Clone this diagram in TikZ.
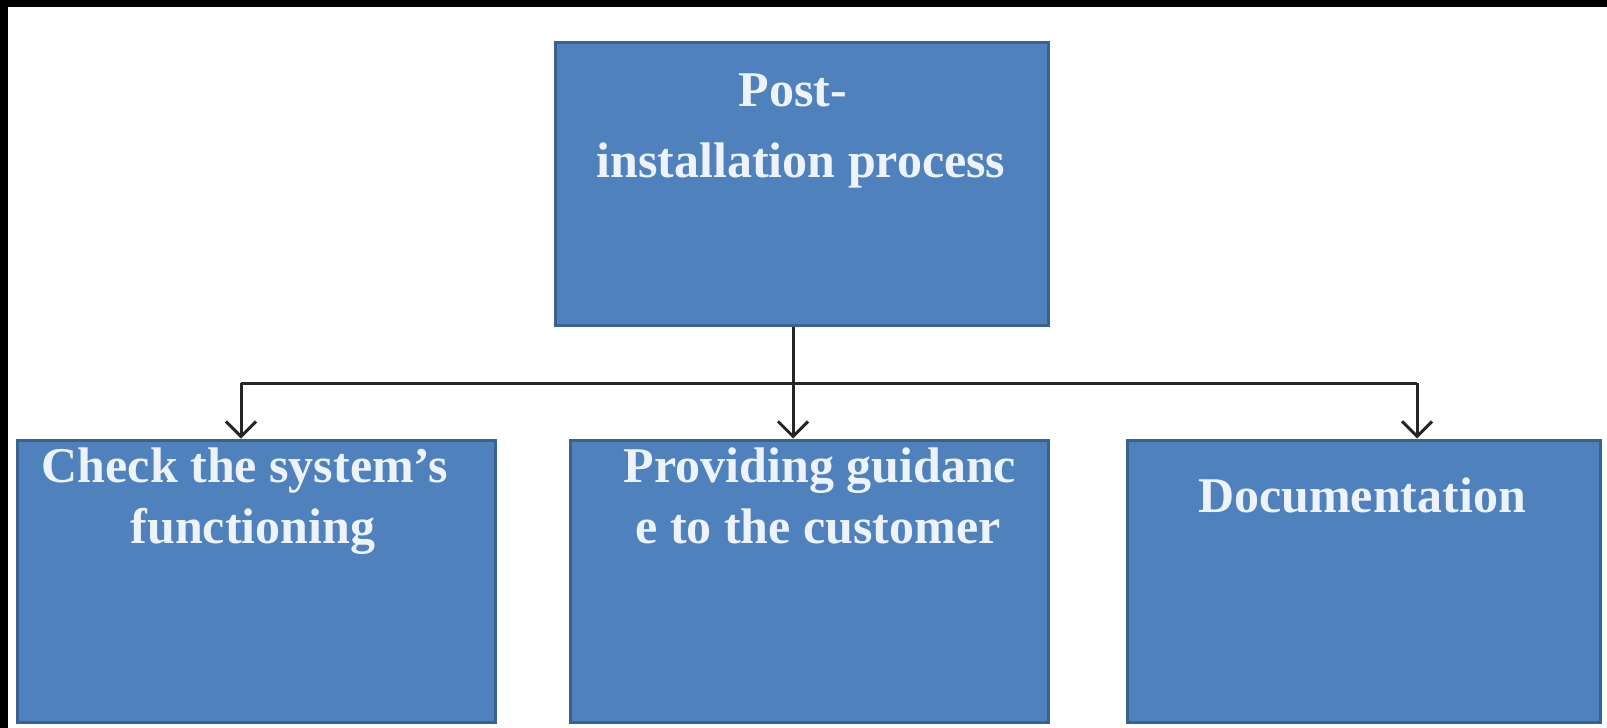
\documentclass[tikz,border=0pt]{standalone}
\usepackage{fontspec}
\setmainfont{Liberation Serif}
\usetikzlibrary{arrows.meta}
\definecolor{boxfill}{HTML}{4F81BD}
\definecolor{boxline}{HTML}{3A6190}
\definecolor{boxtext}{HTML}{EEF3FA}
\tikzset{
  box/.style={draw=boxline, line width=1.5pt, fill=boxfill, inner sep=0pt},
  lbl/.style={text=boxtext, font=\fontsize{25}{30}\selectfont\bfseries, anchor=base, inner sep=0pt},
  conn/.style={draw=black!85, line width=1.5pt},
  arr/.style={conn, -{Straight Barb[length=7.5pt, width=15pt, line width=1.5pt]}},
}
\begin{document}
\begin{tikzpicture}[x=0.5pt, y=-0.5pt]
\useasboundingbox (0,0) rectangle (1607,728);
\fill[white] (0,0) rectangle (1607,728);
\fill[black] (0,0) rectangle (1607,7);
\fill[black] (0,0) rectangle (8,728);

\node[box, minimum width=246.5pt, minimum height=141.5pt] (top) at (801.5,183.5) {};
\node[box, minimum width=239pt, minimum height=141pt] (b1) at (256,581) {};
\node[box, minimum width=239pt, minimum height=141pt] (b2) at (809,581) {};
\node[box, minimum width=236.5pt, minimum height=141pt] (b3) at (1363.5,581) {};

\node[lbl] (t0a) at (793,106) {Post-};
\node[lbl] (t0b) at (801,177) {installation process};
\node[lbl] (t1a) at (245,482) {Check the system’s};
\node[lbl] (t1b) at (253,543) {functioning};
\node[lbl] (t2a) at (820,482) {Providing guidanc};
\node[lbl] (t2b) at (818,543) {e to the customer};
\node[lbl] (t3) at (1362,512) {Documentation};

\coordinate (hub) at (793,383);
\coordinate (jl) at (241,383);
\coordinate (jr) at (1417,383);

\draw[conn] (top.south -| hub) -- (hub);
\draw[conn] (jl) -- (jr);
\draw[arr] (jl) -- (jl |- b1.north);
\draw[arr] (hub) -- (hub |- b2.north);
\draw[arr] (jr) -- (jr |- b3.north);
\end{tikzpicture}
\end{document}
